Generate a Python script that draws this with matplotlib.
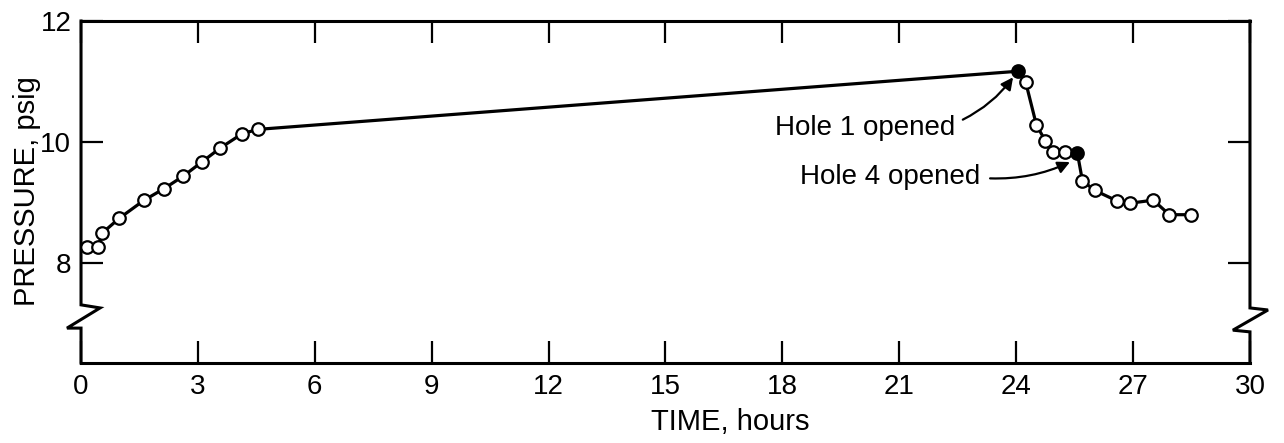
import numpy as np
import matplotlib
matplotlib.use("Agg")
import matplotlib.pyplot as plt

plt.rcParams['font.family'] = ['Liberation Sans', 'DejaVu Sans']

# readings, open circles
t_open = [0.15, 0.44, 0.55, 0.98, 1.62, 2.13, 2.63, 3.10, 3.57, 4.14, 4.55,
          24.24, 24.52, 24.75, 24.95, 25.26, 25.70, 26.02, 26.58, 26.92,
          27.52, 27.93, 28.48]
p_open = [8.27, 8.27, 8.50, 8.74, 9.04, 9.23, 9.44, 9.67, 9.90, 10.14, 10.21,
          11.00, 10.28, 10.02, 9.84, 9.83, 9.36, 9.20, 9.03, 8.99,
          9.04, 8.80, 8.80]

# hole opening events, filled circles
t_hole = [24.05, 25.57]
p_hole = [11.17, 9.82]
hole_labels = ['Hole 1 opened', 'Hole 4 opened']

xticks = [0, 3, 6, 9, 12, 15, 18, 21, 24, 27, 30]
yticks = [8, 10, 12]

t_all = np.array(t_open + t_hole)
p_all = np.array(p_open + p_hole)
order = np.argsort(t_all)

fig = plt.figure(figsize=(12.84, 4.43), dpi=100)
ax = fig.add_axes([0.0631, 0.1806, 0.9104, 0.772])

ax.plot(t_all[order], p_all[order], color='black', lw=2.3, zorder=2)
ax.plot(t_open, p_open, 'o', ms=9, mfc='white', mec='black', mew=1.6, zorder=3)
ax.plot(t_hole, p_hole, 'o', ms=9, mfc='black', mec='black', mew=1.6, zorder=3)

ax.set_xlim(0, 30)
ax.set_ylim(6.35, 12)

# spines, with a break drawn by hand on left and right
for s in ['left', 'right']:
    ax.spines[s].set_visible(False)
for s in ['top', 'bottom']:
    ax.spines[s].set_linewidth(2.2)
lk = dict(color='black', lw=2.2, transform=ax.transAxes, clip_on=False,
          solid_joinstyle='miter')
ax.plot([0, 0, 0.0163, -0.012, 0, 0], [1, 0.170, 0.161, 0.102, 0.102, 0], **lk)
ax.plot([1, 1, 1.0154, 0.9854, 1, 1], [1, 0.161, 0.155, 0.096, 0.091, 0], **lk)

ax.set_xticks(xticks)
ax.set_yticks(yticks)
ax.tick_params(axis='both', direction='in', length=16, width=1.6,
               labelsize=20, pad=8, top=True, right=True)
ax.tick_params(axis='y', pad=7)

ax.set_xlabel('TIME, hours', fontsize=21)
ax.xaxis.set_label_coords(0.555, -0.196)
ax.xaxis.label.set_va('baseline')
ax.set_ylabel('PRESSURE, psig', fontsize=21)
ax.yaxis.set_label_coords(-0.046, 0.503)
ax.yaxis.label.set_va('center')

# annotations
text_pos = [(17.81, 10.12), (18.45, 9.31)]
arrow_start = [(22.63, 10.37), (23.33, 9.40)]
arrow_tip = [(23.92, 11.07), (25.38, 9.67)]
for lab, tp, st, tip in zip(hole_labels, text_pos, arrow_start, arrow_tip):
    ax.text(tp[0], tp[1], lab, fontsize=20, ha='left', va='baseline')
    ax.annotate('', xy=tip, xytext=st,
                arrowprops=dict(arrowstyle='-|>', color='black', lw=1.6,
                                mutation_scale=18, shrinkA=0, shrinkB=0,
                                connectionstyle='arc3,rad=0.12'))

fig.savefig('out.png', dpi=100)
